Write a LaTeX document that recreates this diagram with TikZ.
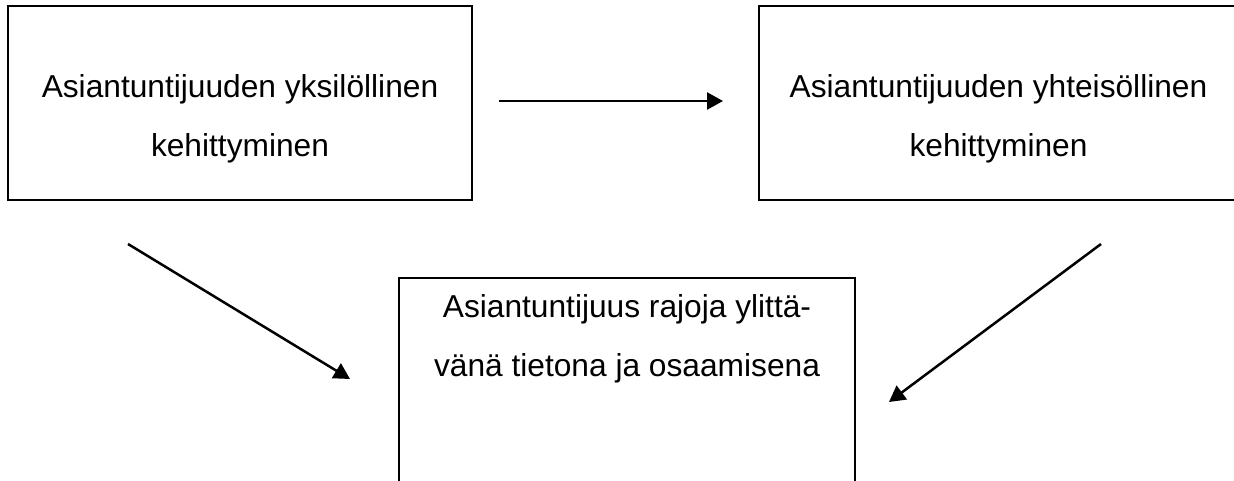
\documentclass[tikz,border=0pt]{standalone}
\usepackage{fontspec}
\setmainfont{Liberation Sans}
\usetikzlibrary{arrows.meta}
\begin{document}
\begin{tikzpicture}[x=1pt,y=-1pt,
  box/.style={draw=black,line width=2pt,rectangle,inner sep=0pt},
  txt/.style={align=center,inner sep=0pt,font=\fontsize{31.7}{58.5}\selectfont},
  arr/.style={line width=2.5pt,-{Triangle[length=16pt,width=17pt]}}]
\clip (0,0) rectangle (1234,481);
\fill[white] (0,0) rectangle (1234,481);
% boxes
\node[box,minimum width=464pt,minimum height=194pt] (L) at (240,103) {};
\node[box,minimum width=479pt,minimum height=194pt] (R) at (998.5,103) {};
\node[box,minimum width=456pt,minimum height=230pt] (B) at (627,393) {};
% texts
\node[txt] (Lt) at (240,119) {Asiantuntijuuden yksilöllinen\\kehittyminen};
\node[txt] (Rt) at (998.5,119) {Asiantuntijuuden yhteisöllinen\\kehittyminen};
\node[txt] (Bt) at (627,339) {Asiantuntijuus rajoja ylittä-\\vänä tietona ja osaamisena};
% connector end points
\coordinate (a1) at (499,101);
\coordinate (a2) at (723,101);
\coordinate (b1) at (128,244);
\coordinate (b2) at (350,379);
\coordinate (c1) at (1101,244);
\coordinate (c2) at (889,402);
\draw[arr] (a1) -- (a2);
\draw[arr] (b1) -- (b2);
\draw[arr] (c1) -- (c2);
\end{tikzpicture}
\end{document}
